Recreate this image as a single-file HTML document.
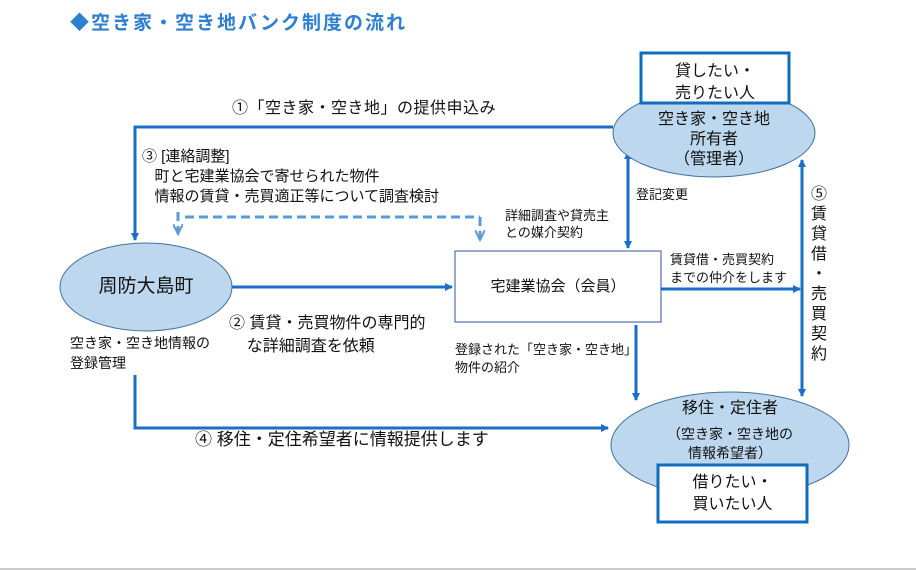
<!DOCTYPE html>
<html><head><meta charset="utf-8"><style>
body{margin:0;width:916px;height:570px;background:#fff;position:relative;overflow:hidden;font-family:"Liberation Sans","Noto Sans CJK JP",sans-serif;color:#111}
.t{position:absolute;white-space:nowrap;line-height:1}
</style></head><body>
<svg width="916" height="570" style="position:absolute;left:0;top:0">
<defs>
<marker id="a" markerWidth="8" markerHeight="8" refX="7" refY="4" orient="auto" markerUnits="userSpaceOnUse"><path d="M0,0L8,4L0,8z" fill="#1a6fc4"/></marker>
<marker id="b" markerWidth="12" markerHeight="10" refX="10" refY="5" orient="auto" markerUnits="userSpaceOnUse"><path d="M0,0L10,5L0,10" fill="none" stroke="#5b9bd5" stroke-width="2"/></marker>
</defs>
<g stroke="#1a6fc4" stroke-width="3" fill="none">
<polyline points="613,127 135,127 135,240" marker-end="url(#a)"/>
<line x1="232" y1="287" x2="452" y2="287" marker-end="url(#a)"/>
<polyline points="135,375 135,428 608,428" marker-end="url(#a)"/>
<line x1="628" y1="200" x2="628" y2="152" marker-end="url(#a)"/>
<line x1="628" y1="200" x2="628" y2="248" marker-end="url(#a)"/>
<line x1="661" y1="289" x2="800" y2="289" marker-end="url(#a)"/>
<line x1="802" y1="280" x2="802" y2="160" marker-end="url(#a)"/>
<line x1="802" y1="280" x2="802" y2="396" marker-end="url(#a)"/>
<line x1="636" y1="325" x2="636" y2="400" marker-end="url(#a)"/>
</g>
<g stroke="#5b9bd5" stroke-width="3" fill="none" stroke-dasharray="9,5">
<line x1="185" y1="217" x2="480" y2="217"/>
<line x1="178" y1="212" x2="178" y2="234" marker-end="url(#b)"/>
<line x1="480" y1="217" x2="480" y2="240" marker-end="url(#b)"/>
</g>
<ellipse cx="714" cy="133" rx="101" ry="44" fill="#bdd7ee" stroke="#41719c"/>
<ellipse cx="146" cy="287" rx="86" ry="44" fill="#bdd7ee" stroke="#41719c"/>
<ellipse cx="730" cy="445" rx="119" ry="53" fill="#bdd7ee" stroke="#41719c"/>
<rect x="641" y="53" width="148" height="50" fill="#fff" stroke="#0f6cbf" stroke-width="3"/>
<rect x="658" y="465" width="149" height="57" fill="#fff" stroke="#0f6cbf" stroke-width="3"/>
<rect x="455" y="251" width="206" height="71" fill="#fff" stroke="#2f5597" stroke-width="1"/>
<line x1="0" y1="569" x2="916" y2="569" stroke="#ccc" stroke-width="2"/>
</svg>
<div class="t" style="left:70px;top:14px;font-size:19px;letter-spacing:2px;font-weight:bold;color:#2f7fd0">◆空き家・空き地バンク制度の流れ</div>
<div class="t" style="left:641px;top:61px;width:148px;text-align:center;font-size:16px;line-height:22px">貸したい・<br>売りたい人</div>
<div class="t" style="left:614px;top:110px;width:200px;text-align:center;font-size:16px;line-height:20px">空き家・空き地<br>所有者<br>（管理者）</div>
<div class="t" style="left:232px;top:101px;font-size:16px;letter-spacing:0.5px">①「空き家・空き地」の提供申込み</div>
<div class="t" style="left:142px;top:147px;font-size:15px;line-height:20px">③ [連絡調整]<br>&nbsp;&nbsp;&nbsp;町と宅建業協会で寄せられた物件<br>&nbsp;&nbsp;&nbsp;情報の賃貸・売買適正等について調査検討</div>
<div class="t" style="left:60px;top:277px;width:172px;text-align:center;font-size:19px">周防大島町</div>
<div class="t" style="left:455px;top:279px;width:206px;text-align:center;font-size:15px">宅建業協会（会員）</div>
<div class="t" style="left:229px;top:312px;font-size:16px;line-height:23px">② 賃貸・売買物件の専門的<br>&nbsp;&nbsp;&nbsp;&nbsp;な詳細調査を依頼</div>
<div class="t" style="left:70px;top:333px;font-size:14px;line-height:20px">空き家・空き地情報の<br>登録管理</div>
<div class="t" style="left:195px;top:431px;font-size:17px">④ 移住・定住希望者に情報提供します</div>
<div class="t" style="left:636px;top:188px;font-size:13px">登記変更</div>
<div class="t" style="left:505px;top:207px;font-size:13px;line-height:17px">詳細調査や貸売主<br>との媒介契約</div>
<div class="t" style="left:670px;top:251px;font-size:13px;line-height:18px">賃貸借・売買契約<br>までの仲介をします</div>
<div class="t" style="left:455px;top:341px;font-size:13px;line-height:18px">登録された「空き家・空き地」<br>物件の紹介</div>
<div class="t" style="left:809px;top:185px;font-size:16px;line-height:20px;width:20px;text-align:center">⑤<br>賃<br>貸<br>借<br>・<br>売<br>買<br>契<br>約</div>
<div class="t" style="left:611px;top:401px;width:238px;text-align:center;font-size:16px">移住・定住者</div>
<div class="t" style="left:611px;top:425px;width:238px;text-align:center;font-size:14px;line-height:19px">（空き家・空き地の<br>情報希望者）</div>
<div class="t" style="left:658px;top:472px;width:149px;text-align:center;font-size:16px;line-height:22px">借りたい・<br>買いたい人</div>
</body></html>
